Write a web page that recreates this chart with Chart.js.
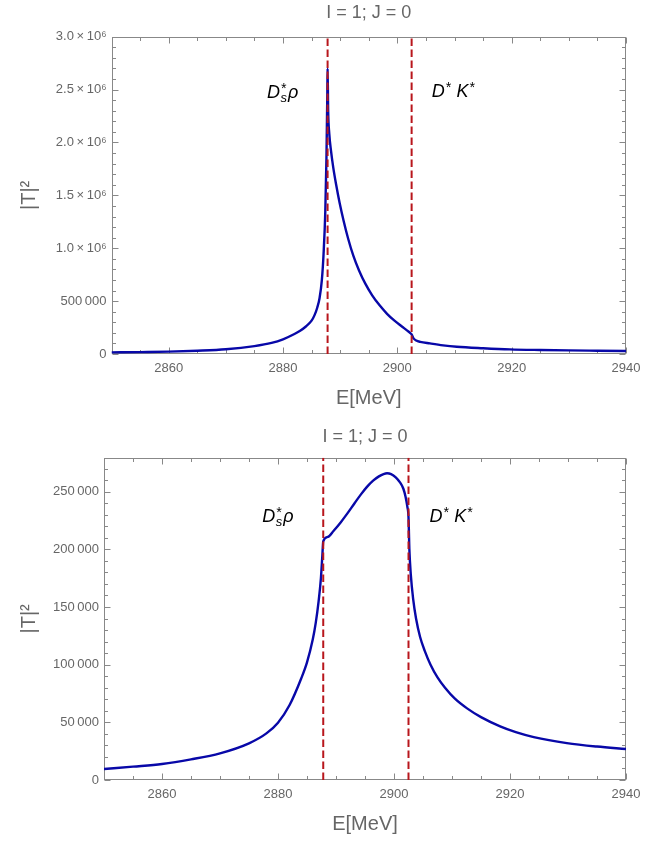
<!DOCTYPE html>
<html>
<head>
<meta charset="utf-8">
<script src="https://cdn.jsdelivr.net/npm/chart.js@4"></script>
<style>
  body { margin: 0; background: #fff; }
  canvas { position: absolute; left: 0; }
  #c1 { top: 0; }
  #c2 { top: 420px; }
</style>
</head>
<body>
<canvas id="c1" width="667" height="420"></canvas>
<canvas id="c2" width="667" height="424"></canvas>
<script>
// energy axis
const xTicks = [2860, 2880, 2900, 2920, 2940];
const thresholds = [2887.8, 2902.5];

// top panel
const topE = [2850, 2855, 2860, 2865, 2870, 2875, 2878, 2880, 2882, 2883, 2884, 2885, 2885.5, 2886, 2886.4, 2886.8, 2887.1, 2887.4, 2887.6, 2887.75, 2887.8,
  2887.9, 2888.1, 2888.4, 2888.8, 2889.3, 2889.9, 2890.6, 2891.4, 2892.3, 2893.3, 2894.4, 2895.6, 2896.9, 2898.2, 2899.5, 2900.8, 2902.0, 2902.5,
  2902.8, 2903.3, 2904, 2905.7, 2908, 2910.4, 2915, 2919.7, 2925, 2930, 2935, 2940];
const topT2 = [15000, 18000, 22000, 31000, 45000, 75000, 105000, 139000, 189000, 220000, 260000, 315000, 365000, 440000, 530000, 700000, 950000, 1350000, 1850000, 2450000, 2700000,
  2300000, 2080000, 1920000, 1760000, 1600000, 1430000, 1260000, 1090000, 930000, 790000, 665000, 555000, 460000, 380000, 315000, 260000, 210000, 185000,
  150000, 128000, 115000, 100000, 82000, 69000, 55000, 44000, 38000, 34000, 31000, 28000];
const topYTicks = [0, 500000, 1000000, 1500000, 2000000, 2500000, 3000000];
const topYLabels = ['0', '500\u2009000', '1.0\u2009×\u200910⁶', '1.5\u2009×\u200910⁶', '2.0\u2009×\u200910⁶', '2.5\u2009×\u200910⁶', '3.0\u2009×\u200910⁶'];

// bottom panel
const botE = [2850, 2855, 2860, 2865, 2870, 2875, 2878, 2880, 2882, 2884, 2885, 2886, 2886.5, 2887, 2887.4, 2887.65, 2887.8,
  2888.6, 2889.6, 2890.8, 2892.0, 2893.2, 2894.3, 2895.3, 2896.4, 2897.4, 2898.2, 2898.8, 2899.5, 2900.3, 2901.0, 2901.6, 2902.0, 2902.3, 2902.5,
  2902.65, 2902.9, 2903.3, 2903.8, 2904.5, 2905.3, 2906.3, 2907.5, 2908.8, 2910.5, 2912.6, 2915, 2918.3, 2921, 2924.1, 2929.8, 2935, 2940];
const botT2 = [9500, 11600, 13900, 17900, 23100, 31800, 40400, 49700, 65000, 88000, 102000, 122000, 136000, 155000, 175000, 195000, 207000,
  210800, 216200, 223400, 231400, 240000, 247700, 254000, 259600, 263300, 265300, 266000, 265300, 262500, 258300, 252800, 245500, 237000, 228000,
  200000, 178000, 157000, 140000, 124000, 112000, 100000, 89000, 80000, 70500, 62100, 54500, 46500, 41500, 37200, 32000, 29000, 26900];
const botYTicks = [0, 50000, 100000, 150000, 200000, 250000];
const botYLabels = ['0', '50\u2009000', '100\u2009000', '150\u2009000', '200\u2009000', '250\u2009000'];

// threshold labels: [E, |T|^2 at baseline]
const labelParts = [
  [{ base: 'D', sup: '*', sub: 's' }, { base: 'ρ' }],
  [{ base: 'D', sup: '*' }, { base: ' K', sup: '*' }]
];
const topLabelPos = [[2877.2, 2420000], [2906.0, 2430000]];
const botLabelPos = [[2877.3, 223800], [2906.1, 223800]];

const GRAY = '#666';
const FONT = '"Liberation Sans", Arial, sans-serif';

const frameTicks = {
  id: 'frameTicks',
  beforeDatasetsDraw(chart, args, o) {
    const { ctx, chartArea: a, scales: { x, y } } = chart;
    const L = Math.round(a.left) + 0.5, R = Math.round(a.right) - 0.5;
    const T = Math.round(a.top) + 0.5, B = Math.round(a.bottom) - 0.5;
    ctx.save();
    ctx.strokeStyle = '#888';
    ctx.lineWidth = 1;
    ctx.strokeRect(L, T, R - L, B - T);
    ctx.beginPath();
    for (let v = 2850; v <= 2940; v += 5) {
      const px = Math.round(x.getPixelForValue(v)) + 0.5;
      const len = v % 20 === 0 ? 6 : 3.5;
      ctx.moveTo(px, B); ctx.lineTo(px, B - len);
      ctx.moveTo(px, T); ctx.lineTo(px, T + len);
    }
    for (let v = 0; v <= y.max; v += o.minor) {
      const py = Math.round(y.getPixelForValue(v)) + 0.5;
      const len = Math.abs(v / o.major - Math.round(v / o.major)) < 1e-6 ? 6 : 3.5;
      ctx.moveTo(L, py); ctx.lineTo(L + len, py);
      ctx.moveTo(R, py); ctx.lineTo(R - len, py);
    }
    ctx.stroke();
    ctx.restore();
  },
  afterDatasetsDraw(chart, args, o) {
    const { ctx, scales: { x, y } } = chart;
    ctx.save();
    ctx.fillStyle = '#000';
    ctx.textBaseline = 'alphabetic';
    ctx.textAlign = 'left';
    labelParts.forEach((parts, i) => {
      let px = x.getPixelForValue(o.labels[i][0]);
      const py = y.getPixelForValue(o.labels[i][1]);
      parts.forEach(p => {
        ctx.font = 'italic 18px ' + FONT;
        ctx.fillText(p.base, px, py);
        px += ctx.measureText(p.base).width;
        let w = 0;
        if (p.sup) {
          ctx.font = 'italic 14px ' + FONT;
          ctx.fillText(p.sup, px + 0.5, py - 5);
          w = Math.max(w, ctx.measureText(p.sup).width + 1.5);
        }
        if (p.sub) {
          ctx.font = 'italic 13px ' + FONT;
          ctx.fillText(p.sub, px + 0.5, py + 4);
          w = Math.max(w, ctx.measureText(p.sub).width + 1.5);
        }
        px += w;
      });
    });
    ctx.restore();
  }
};

function makeChart(id, E, T2, yMax, yTicks, yLabels, cfg) {
  const dashed = thresholds.map(t => ({
    data: [{ x: t, y: 0 }, { x: t, y: yMax }],
    borderColor: '#b8161c',
    borderWidth: 2,
    borderDash: [7.5, 3.5],
    pointRadius: 0,
    order: 0
  }));
  return new Chart(document.getElementById(id).getContext('2d'), {
    type: 'line',
    data: {
      datasets: [...dashed, {
        data: E.map((e, i) => ({ x: e, y: T2[i] })),
        borderColor: '#0808a8',
        borderWidth: 2.4,
        pointRadius: 0,
        cubicInterpolationMode: 'monotone',
        order: 1
      }]
    },
    options: {
      responsive: false,
      animation: false,
      layout: { padding: { left: 0, right: 41, top: 0, bottom: 0 } },
      plugins: {
        legend: { display: false },
        tooltip: { enabled: false },
        title: {
          display: true, fullSize: false,
          text: 'I = 1; J = 0', color: GRAY,
          font: { family: FONT, size: 18, weight: 'normal' },
          padding: cfg.titlePad
        },
        frameTicks: { minor: cfg.minor, major: cfg.major, labels: cfg.labels }
      },
      scales: {
        x: {
          type: 'linear', min: 2850, max: 2940,
          afterBuildTicks: s => { s.ticks = xTicks.map(v => ({ value: v })); },
          afterFit: s => { s.height = cfg.xHeight; },
          grid: { display: false, drawTicks: false },
          border: { display: false },
          ticks: { color: GRAY, font: { family: FONT, size: 13 }, padding: 7, maxRotation: 0, autoSkip: false, callback: v => String(v) },
          title: { display: true, text: 'E[MeV]', color: GRAY, font: { family: FONT, size: 20 }, padding: { top: 0, bottom: cfg.xTitlePad } }
        },
        y: {
          type: 'linear', min: 0, max: yMax,
          afterBuildTicks: s => { s.ticks = yTicks.map(v => ({ value: v })); },
          afterFit: s => { s.width = cfg.yWidth; },
          grid: { display: false, drawTicks: false },
          border: { display: false },
          ticks: { color: GRAY, font: { family: FONT, size: 13 }, padding: 5, autoSkip: false, callback: v => yLabels[yTicks.indexOf(v)] },
          title: { display: true, text: '|T|²', color: GRAY, font: { family: FONT, size: 20 }, padding: { top: 17, bottom: 0 } }
        }
      }
    },
    plugins: [frameTicks]
  });
}

makeChart('c1', topE, topT2, 3000000, topYTicks, topYLabels, {
  titlePad: { top: 2.5, bottom: 12.6 }, xHeight: 66, xTitlePad: 10, yWidth: 111.5,
  minor: 100000, major: 500000, labels: topLabelPos
});
makeChart('c2', botE, botT2, 279500, botYTicks, botYLabels, {
  titlePad: { top: 5.9, bottom: 10.2 }, xHeight: 64, xTitlePad: 8, yWidth: 104,
  minor: 10000, major: 50000, labels: botLabelPos
});
</script>
</body>
</html>
